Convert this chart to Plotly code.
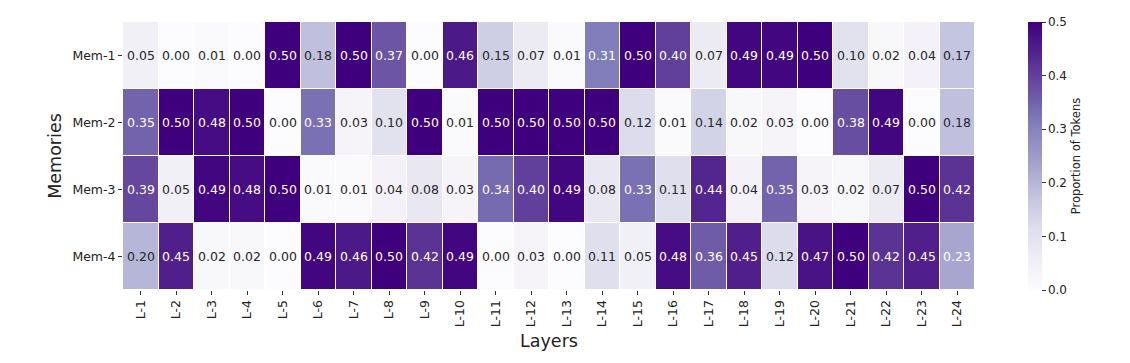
import plotly.graph_objects as go

layers = [f"L-{i}" for i in range(1, 25)]
memories = ["Mem-1", "Mem-2", "Mem-3", "Mem-4"]

mem1 = [0.05, 0.00, 0.01, 0.00, 0.50, 0.18, 0.50, 0.37, 0.00, 0.46, 0.15, 0.07,
        0.01, 0.31, 0.50, 0.40, 0.07, 0.49, 0.49, 0.50, 0.10, 0.02, 0.04, 0.17]
mem2 = [0.35, 0.50, 0.48, 0.50, 0.00, 0.33, 0.03, 0.10, 0.50, 0.01, 0.50, 0.50,
        0.50, 0.50, 0.12, 0.01, 0.14, 0.02, 0.03, 0.00, 0.38, 0.49, 0.00, 0.18]
mem3 = [0.39, 0.05, 0.49, 0.48, 0.50, 0.01, 0.01, 0.04, 0.08, 0.03, 0.34, 0.40,
        0.49, 0.08, 0.33, 0.11, 0.44, 0.04, 0.35, 0.03, 0.02, 0.07, 0.50, 0.42]
mem4 = [0.20, 0.45, 0.02, 0.02, 0.00, 0.49, 0.46, 0.50, 0.42, 0.49, 0.00, 0.03,
        0.00, 0.11, 0.05, 0.48, 0.36, 0.45, 0.12, 0.47, 0.50, 0.42, 0.45, 0.23]

z = [mem1, mem2, mem3, mem4]

purples = [
    [0.0, "rgb(252,251,253)"], [0.125, "rgb(239,237,245)"], [0.25, "rgb(218,218,235)"],
    [0.375, "rgb(188,189,220)"], [0.5, "rgb(158,154,200)"], [0.625, "rgb(128,125,186)"],
    [0.75, "rgb(106,81,163)"], [0.875, "rgb(84,39,143)"], [1.0, "rgb(63,0,125)"],
]

FONT = "DejaVu Sans"

fig = go.Figure()
fig.add_trace(go.Heatmap(
    z=z, x=layers, y=memories, zmin=0, zmax=0.5, colorscale=purples,
    xgap=1, ygap=1, hoverinfo="skip",
    colorbar=dict(
        x=1.062, xanchor="left", y=0.5, yanchor="middle", len=1.0, lenmode="fraction",
        thickness=14, outlinewidth=0, ticks="outside", ticklen=4, tickcolor="#333",
        xpad=0, ypad=0,
        tickvals=[0, 0.1, 0.2, 0.3, 0.4, 0.5], ticktext=["0.0", "0.1", "0.2", "0.3", "0.4", "0.5"],
        tickfont=dict(family=FONT, size=12, color="#222"),
        title=dict(text="Proportion of Tokens", side="right", font=dict(family=FONT, size=11.5, color="#222")),
    ),
))

annotations = []
for r, row in enumerate(z):
    for c, v in enumerate(row):
        annotations.append(dict(
            x=layers[c], y=memories[r], text=f"{v:.2f}", showarrow=False,
            font=dict(family=FONT, size=12.5, color="white" if v > 0.215 else "#262626"),
        ))

fig.update_layout(
    width=1122, height=355,
    margin=dict(l=115, r=155, t=14, b=73, autoexpand=False),
    paper_bgcolor="white", plot_bgcolor="white",
    font=dict(family=FONT, size=12, color="#222"),
    annotations=annotations,
    xaxis=dict(
        title=dict(text="Layers", font=dict(family=FONT, size=17.5, color="#222"), standoff=8),
        tickangle=-90, ticks="outside", ticklen=4, tickcolor="#333",
        tickfont=dict(family=FONT, size=12.5, color="#222"), showgrid=False, zeroline=False,
    ),
    yaxis=dict(
        title=dict(text="Memories", font=dict(family=FONT, size=17.5, color="#222"), standoff=6),
        autorange="reversed", ticks="outside", ticklen=4, tickcolor="#333",
        tickfont=dict(family=FONT, size=12.5, color="#222"), showgrid=False, zeroline=False,
    ),
)

fig.write_html("out.html")
